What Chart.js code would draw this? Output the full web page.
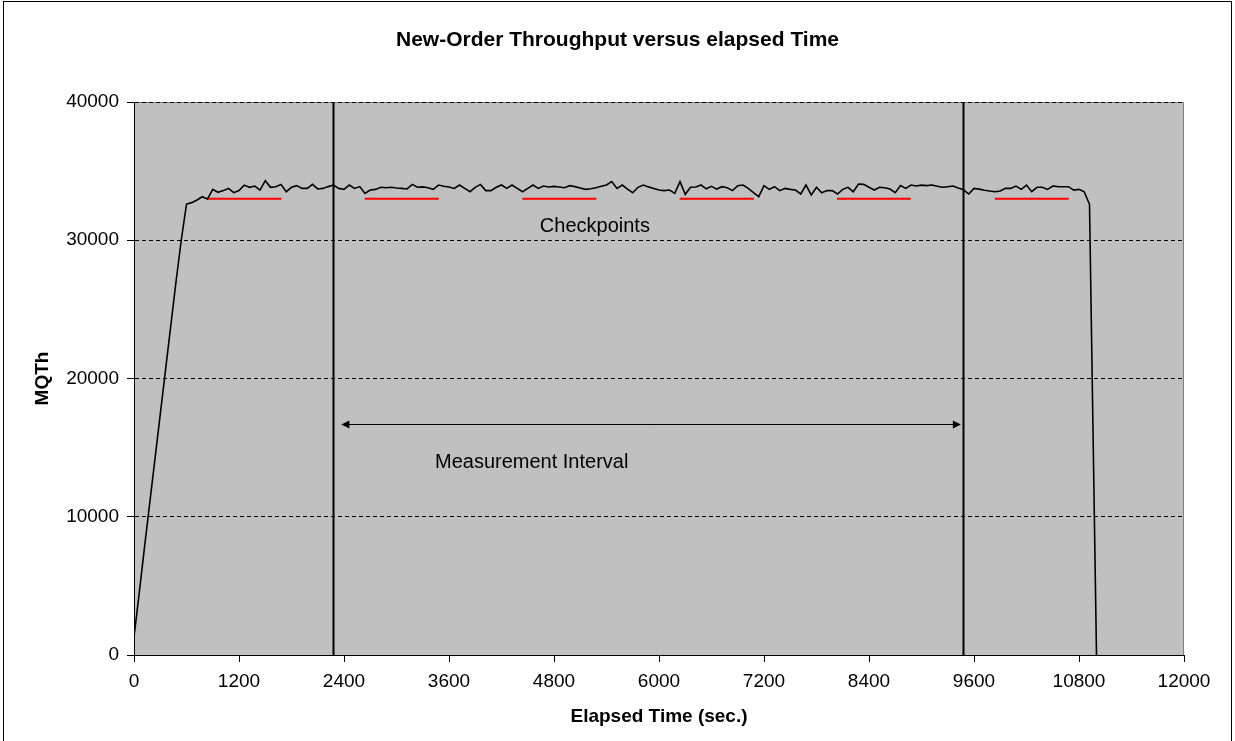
<!DOCTYPE html>
<html lang="en">
<head>
<meta charset="UTF-8">
<title>New-Order Throughput versus elapsed Time</title>
<script src="https://cdn.jsdelivr.net/npm/chart.js"></script>
<style>
  html, body { margin: 0; padding: 0; background: #fff; }
  #wrap { position: relative; width: 1235px; height: 741px; }
</style>
</head>
<body>
<div id="wrap"><canvas id="tputChart"></canvas></div>
<script>
// elapsed seconds of each sample
const elapsed = [
  0, 60, 120, 180, 240, 300, 360, 420, 480, 540,
  600, 660, 720, 780, 840, 900, 960, 1020, 1080, 1140,
  1200, 1260, 1320, 1380, 1440, 1500, 1560, 1620, 1680, 1740,
  1800, 1860, 1920, 1980, 2040, 2100, 2160, 2220, 2280, 2340,
  2400, 2460, 2520, 2580, 2640, 2700, 2760, 2820, 2880, 2940,
  3000, 3060, 3120, 3180, 3240, 3300, 3360, 3420, 3480, 3540,
  3600, 3660, 3720, 3780, 3840, 3900, 3960, 4020, 4080, 4140,
  4200, 4260, 4320, 4380, 4440, 4500, 4560, 4620, 4680, 4740,
  4800, 4860, 4920, 4980, 5040, 5100, 5160, 5220, 5280, 5340,
  5400, 5460, 5520, 5580, 5640, 5700, 5760, 5820, 5880, 5940,
  6000, 6060, 6120, 6180, 6240, 6300, 6360, 6420, 6480, 6540,
  6600, 6660, 6720, 6780, 6840, 6900, 6960, 7020, 7080, 7140,
  7200, 7260, 7320, 7380, 7440, 7500, 7560, 7620, 7680, 7740,
  7800, 7860, 7920, 7980, 8040, 8100, 8160, 8220, 8280, 8340,
  8400, 8460, 8520, 8580, 8640, 8700, 8760, 8820, 8880, 8940,
  9000, 9060, 9120, 9180, 9240, 9300, 9360, 9420, 9480, 9540,
  9600, 9660, 9720, 9780, 9840, 9900, 9960, 10020, 10080, 10140,
  10200, 10260, 10320, 10380, 10440, 10500, 10560, 10620, 10680, 10740,
  10800, 10860, 10920, 11000
];

// new-order throughput (MQTh) per sample
const mqth = [
  1300, 4500, 7800, 11000, 14200, 17400, 20600, 23800, 27000, 30000,
  32620, 32720, 32910, 33150, 32980, 33680, 33470, 33590, 33750, 33440,
  33590, 33990, 33830, 33920, 33630, 34310, 33830, 33870, 34040, 33510,
  33830, 33950, 33750, 33750, 34040, 33710, 33750, 33880, 33990, 33750,
  33680, 33990, 33750, 33880, 33390, 33630, 33680, 33830, 33800, 33830,
  33780, 33750, 33710, 34040, 33830, 33860, 33800, 33680, 33995, 33900,
  33850, 33750, 33995, 33750, 33510, 33830, 34040, 33590, 33590, 33830,
  33995, 33750, 33995, 33750, 33510, 33750, 33995, 33750, 33920, 33850,
  33900, 33850, 33800, 33950, 33880, 33780, 33680, 33720, 33800, 33900,
  33995, 34240, 33750, 33995, 33700, 33440, 33830, 33995, 33860, 33750,
  33630, 33590, 33630, 33390, 34240, 33320, 33830, 33850, 33995, 33720,
  33900, 33700, 33875, 33800, 33590, 33950, 33995, 33750, 33440, 33150,
  33950, 33680, 33875, 33590, 33750, 33680, 33630, 33345, 33995, 33270,
  33830, 33440, 33590, 33590, 33345, 33680, 33830, 33510, 34070, 34040,
  33830, 33630, 33830, 33800, 33700, 33440, 33950, 33750, 33995, 33920,
  33990, 33950, 33995, 33910, 33830, 33875, 33920, 33780, 33650, 33345,
  33750, 33700, 33620, 33560, 33510, 33560, 33750, 33750, 33920, 33680,
  33995, 33510, 33830, 33830, 33680, 33920, 33880, 33875, 33875, 33630,
  33680, 33500, 32600, 0
];

// checkpoint spans (sec) and their marker level
const checkpointStart = [834, 2637, 4439, 6237, 8034, 9838];
const checkpointEnd = [1685, 3483, 5285, 7086, 8877, 10683];
const checkpointLevel = 33000;

// measurement interval boundaries (sec)
const intervalBounds = [2280, 9480];

// axis ticks
const xTicks = [0, 1200, 2400, 3600, 4800, 6000, 7200, 8400, 9600, 10800, 12000];
const yTicks = [0, 10000, 20000, 30000, 40000];

const FONT = "'Liberation Sans', Arial, sans-serif";
const TITLE = 'New-Order Throughput versus elapsed Time';

const tputPoints = elapsed.map((t, i) => ({ x: t, y: mqth[i] }));

const checkpointPoints = [];
checkpointStart.forEach((s, i) => {
    checkpointPoints.push({ x: s, y: checkpointLevel });
    checkpointPoints.push({ x: checkpointEnd[i], y: checkpointLevel });
    checkpointPoints.push({ x: checkpointEnd[i], y: null });
});

const boundDatasets = intervalBounds.map(b => ({
    data: [{ x: b, y: yTicks[0] }, { x: b, y: yTicks[yTicks.length - 1] }],
    borderColor: '#000',
    borderWidth: 2,
    pointRadius: 0,
    order: 3
}));

// grey plot area, outer frame and title (title centred on whole canvas)
const frame = {
    id: 'frame',
    beforeDraw(chart) {
        const { ctx, chartArea: a } = chart;
        ctx.save();
        ctx.fillStyle = '#fff';
        ctx.fillRect(0, 0, chart.width, chart.height);
        ctx.fillStyle = '#c0c0c0';
        ctx.fillRect(a.left, a.top, a.right - a.left, a.bottom - a.top);
        ctx.strokeStyle = '#808080';
        ctx.lineWidth = 1;
        ctx.beginPath();
        ctx.moveTo(a.left, a.top + 0.5);
        ctx.lineTo(a.right - 0.5, a.top + 0.5);
        ctx.lineTo(a.right - 0.5, a.bottom);
        ctx.stroke();
        ctx.strokeStyle = '#000';
        ctx.strokeRect(3.5, 1.5, chart.width - 7, chart.height + 10);

        ctx.fillStyle = '#000';
        ctx.font = 'bold 21px ' + FONT;
        ctx.textAlign = 'center';
        ctx.textBaseline = 'middle';
        ctx.fillText(TITLE, chart.width / 2, 40);
        ctx.restore();
    }
};

// measurement interval arrow and text labels
const notes = {
    id: 'notes',
    afterDatasetsDraw(chart) {
        const { ctx, scales: { x, y } } = chart;
        ctx.save();
        const ay = Math.round(y.getPixelForValue(16700)) + 0.5;
        const x1 = x.getPixelForValue(2370);
        const x2 = x.getPixelForValue(9450);
        ctx.strokeStyle = '#000';
        ctx.fillStyle = '#000';
        ctx.lineWidth = 1;
        ctx.beginPath();
        ctx.moveTo(x1 + 4, ay);
        ctx.lineTo(x2 - 4, ay);
        ctx.stroke();
        ctx.beginPath();
        ctx.moveTo(x1, ay);
        ctx.lineTo(x1 + 8, ay - 4);
        ctx.lineTo(x1 + 8, ay + 4);
        ctx.closePath();
        ctx.fill();
        ctx.beginPath();
        ctx.moveTo(x2, ay);
        ctx.lineTo(x2 - 8, ay - 4);
        ctx.lineTo(x2 - 8, ay + 4);
        ctx.closePath();
        ctx.fill();

        ctx.font = '20px ' + FONT;
        ctx.textAlign = 'center';
        ctx.textBaseline = 'middle';
        ctx.fillText('Checkpoints', x.getPixelForValue(5267), y.getPixelForValue(31030));
        ctx.fillText('Measurement Interval', x.getPixelForValue(4545), y.getPixelForValue(13960));
        ctx.restore();
    }
};

const ctx = document.getElementById('tputChart').getContext('2d');
const tputChart = new Chart(ctx, {
    type: 'line',
    data: {
        datasets: [
            {
                label: 'MQTh',
                data: tputPoints,
                borderColor: '#000',
                borderWidth: 1.6,
                pointRadius: 0,
                tension: 0,
                order: 1
            },
            {
                label: 'Checkpoints',
                data: checkpointPoints,
                borderColor: '#ff0000',
                borderWidth: 2,
                pointRadius: 0,
                spanGaps: false,
                order: 2
            },
            ...boundDatasets
        ]
    },
    options: {
        responsive: true,
        maintainAspectRatio: false,
        animation: false,
        layout: { padding: { left: 0, right: 51, top: 102, bottom: 0 } },
        plugins: {
            legend: { display: false },
            tooltip: { enabled: false },
            title: { display: false }
        },
        scales: {
            x: {
                type: 'linear',
                min: 0,
                max: 12000,
                afterBuildTicks: s => { s.ticks = xTicks.map(v => ({ value: v })); },
                afterFit: s => { s.height = 86; },
                ticks: {
                    color: '#000',
                    font: { family: FONT, size: 19 },
                    padding: 8,
                    maxRotation: 0,
                    callback: v => String(v)
                },
                grid: {
                    drawOnChartArea: false,
                    drawTicks: true,
                    tickLength: 7,
                    tickColor: '#000',
                    tickWidth: 1,
                    tickBorderDash: []
                },
                border: { display: true, color: '#000', width: 1 },
                title: {
                    display: true,
                    text: 'Elapsed Time (sec.)',
                    color: '#000',
                    font: { family: FONT, size: 19, weight: 'bold' },
                    padding: { top: 0, bottom: 13 }
                }
            },
            y: {
                min: 0,
                max: 40000,
                afterBuildTicks: s => { s.ticks = yTicks.map(v => ({ value: v })); },
                afterFit: s => { s.width = 134; },
                ticks: {
                    color: '#000',
                    font: { family: FONT, size: 19 },
                    padding: 8,
                    callback: v => String(v)
                },
                grid: {
                    color: '#000',
                    lineWidth: 1,
                    drawTicks: true,
                    tickLength: 7,
                    tickColor: '#000',
                    tickWidth: 1,
                    tickBorderDash: []
                },
                border: { display: true, color: '#000', width: 1, dash: [4, 3] },
                title: {
                    display: true,
                    text: 'MQTh',
                    color: '#000',
                    font: { family: FONT, size: 19, weight: 'bold' },
                    padding: { top: 31, bottom: 0 }
                }
            }
        }
    },
    plugins: [frame, notes]
});
</script>
</body>
</html>
